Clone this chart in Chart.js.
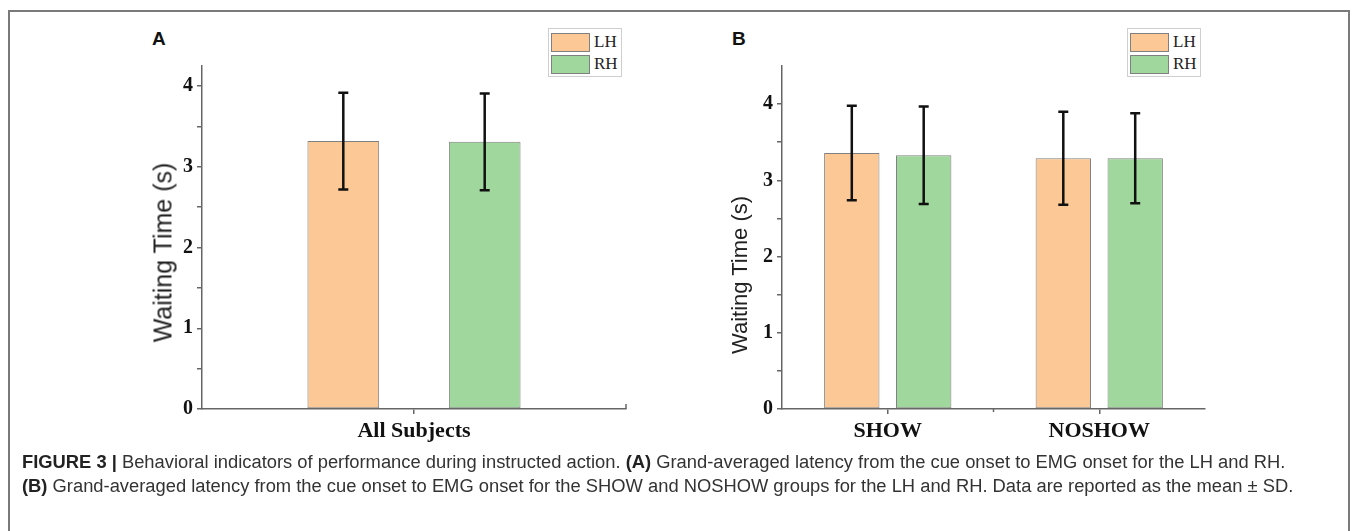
<!DOCTYPE html>
<html>
<head>
<meta charset="utf-8">
<script src="https://cdn.jsdelivr.net/npm/chart.js@4.4.1/dist/chart.umd.min.js"></script>
<style>
  body { margin: 0; background: #fff; width: 1357px; height: 531px; overflow: hidden; position: relative; font-family: "Liberation Sans", Arial, sans-serif; }
  .frame { position: absolute; left: 8px; top: 10px; width: 1338px; height: 540px; border: 2px solid #7a7a7a; border-bottom: none; }
  canvas { position: absolute; }
  .panel-label { position: absolute; font: bold 19px "Liberation Sans", Arial, sans-serif; color: #111; }
  .ytitle { position: absolute; width: 300px; margin-left: -150px; text-align: center; transform: rotate(-90deg); color: #222; white-space: nowrap; line-height: 1; }
  .legend { position: absolute; border: 1px solid #cfcfcf; background: #fff; padding: 2px 3px 1px 2px; }
  .legend .item { display: flex; align-items: center; height: 22px; font: 17px "Liberation Serif", "Times New Roman", serif; color: #222; }
  .legend .sw { width: 39px; height: 19px; border: 1px solid #808080; box-sizing: border-box; margin-right: 4px; }
  .caption { position: absolute; left: 22px; top: 450px; font-size: 18.35px; line-height: 24px; color: #333; white-space: nowrap; }
  .caption b { color: #222; }
</style>
</head>
<body>
<div class="frame"></div>
<div class="panel-label" style="left:152px;top:28px;">A</div>
<div class="panel-label" style="left:732px;top:28px;">B</div>
<canvas id="chartA" width="560" height="420" style="left:100px;top:40px;"></canvas>
<canvas id="chartB" width="560" height="420" style="left:680px;top:40px;"></canvas>
<div class="ytitle" id="titleA" style="left:163px;top:240px;font-size:25px;"></div>
<div class="ytitle" id="titleB" style="left:740px;top:264px;font-size:22px;"></div>
<div class="legend" id="legendA" style="left:548px;top:28px;"></div>
<div class="legend" id="legendB" style="left:1127px;top:28px;"></div>
<div class="caption">
  <b>FIGURE 3 |</b> Behavioral indicators of performance during instructed action. <b>(A)</b> Grand-averaged latency from the cue onset to EMG onset for the LH and RH.<br>
  <b>(B)</b> Grand-averaged latency from the cue onset to EMG onset for the SHOW and NOSHOW groups for the LH and RH. Data are reported as the mean ± SD.
</div>
<script>
// données
const handLabels = ['LH', 'RH'];
const handColors = ['#FBC896', '#9FD79C'];
const yTitle = 'Waiting Time (s)';

const allCategories = ['All Subjects'];
const allMeanLH = [3.32];
const allSdLH = [0.60];
const allMeanRH = [3.31];
const allSdRH = [0.60];

const groupCategories = ['SHOW', 'NOSHOW'];
const groupMeanLH = [3.36, 3.29];
const groupSdLH = [0.62, 0.61];
const groupMeanRH = [3.33, 3.29];
const groupSdRH = [0.64, 0.59];

const yMaxA = 4.25;
const yMaxB = 4.5;
const yTickValues = [0, 0.5, 1, 1.5, 2, 2.5, 3, 3.5, 4];

const serifBold = { family: '"Liberation Serif", "Times New Roman", serif', weight: 'bold', size: 20 };

// barres d'erreur (moyenne ± écart type)
const errorBars = {
  id: 'errorBars',
  afterDatasetsDraw(chart) {
    const ctx = chart.ctx;
    const y = chart.scales.y;
    ctx.save();
    ctx.strokeStyle = '#111';
    ctx.lineWidth = 2.5;
    chart.data.datasets.forEach((ds, i) => {
      const meta = chart.getDatasetMeta(i);
      meta.data.forEach((bar, j) => {
        const top = y.getPixelForValue(ds.data[j] + ds.sd[j]);
        const bottom = y.getPixelForValue(ds.data[j] - ds.sd[j]);
        ctx.beginPath();
        ctx.moveTo(bar.x, top); ctx.lineTo(bar.x, bottom);
        ctx.moveTo(bar.x - 5, top); ctx.lineTo(bar.x + 5, top);
        ctx.moveTo(bar.x - 5, bottom); ctx.lineTo(bar.x + 5, bottom);
        ctx.stroke();
      });
    });
    ctx.restore();
  }
};

// petites graduations en plus sur l'axe x
const extraTicks = {
  id: 'extraTicks',
  afterDraw(chart, args, opts) {
    const ctx = chart.ctx;
    const area = chart.chartArea;
    const x = chart.scales.x;
    ctx.save();
    ctx.strokeStyle = '#666';
    ctx.lineWidth = 1.5;
    if (opts.endTick) {
      ctx.beginPath();
      ctx.moveTo(area.right, area.bottom);
      ctx.lineTo(area.right, area.bottom - 5);
      ctx.stroke();
    }
    if (opts.midTicks) {
      for (let i = 0; i < chart.data.labels.length - 1; i++) {
        const mx = (x.getPixelForTick(i) + x.getPixelForTick(i + 1)) / 2;
        ctx.beginPath();
        ctx.moveTo(mx, area.bottom);
        ctx.lineTo(mx, area.bottom + 3);
        ctx.stroke();
      }
    }
    ctx.restore();
  }
};

function makeDatasets(meanLH, sdLH, meanRH, sdRH, barPct, catPct) {
  return [meanLH, meanRH].map((vals, i) => ({
    label: handLabels[i],
    data: vals,
    sd: i === 0 ? sdLH : sdRH,
    backgroundColor: handColors[i],
    borderColor: '#808080',
    borderWidth: 1,
    borderSkipped: false,
    barPercentage: barPct,
    categoryPercentage: catPct
  }));
}

function makeChart(id, labels, datasets, yMax, pad, extra) {
  const ctx = document.getElementById(id).getContext('2d');
  return new Chart(ctx, {
    type: 'bar',
    data: { labels: labels, datasets: datasets },
    options: {
      responsive: false,
      animation: false,
      layout: { padding: pad },
      plugins: {
        legend: { display: false },
        tooltip: { enabled: false },
        extraTicks: extra
      },
      scales: {
        x: {
          grid: { display: true, drawOnChartArea: false, drawTicks: true, tickLength: 5, offset: false, color: '#666', lineWidth: 1.5 },
          border: { display: true, color: '#666', width: 1.5 },
          ticks: { color: '#111', font: { ...serifBold, size: 22 }, padding: 4 },
          afterFit(scale) { scale.height = 51; }
        },
        y: {
          min: 0,
          max: yMax,
          afterBuildTicks(scale) { scale.ticks = yTickValues.map(v => ({ value: v })); },
          grid: { display: true, drawOnChartArea: false, drawTicks: true, tickLength: 5, lineWidth: 1.5, color: '#666' },
          border: { display: true, color: '#666', width: 1.5 },
          ticks: {
            color: '#111',
            font: serifBold,
            padding: 4,
            callback: v => (Number.isInteger(v) ? v : '')
          },
          afterFit(scale) { scale.width = 102; }
        }
      }
    },
    plugins: [errorBars, extraTicks]
  });
}

function buildLegend(id) {
  const el = document.getElementById(id);
  handLabels.forEach((lab, i) => {
    const item = document.createElement('div');
    item.className = 'item';
    item.innerHTML = '<span class="sw" style="background:' + handColors[i] + '"></span>' + lab;
    el.appendChild(item);
  });
}

document.addEventListener('DOMContentLoaded', function() {
  makeChart('chartA', allCategories,
    makeDatasets(allMeanLH, allSdLH, allMeanRH, allSdRH, 0.507, 0.667),
    yMaxA, { left: 0, right: 34, top: 26, bottom: 0 }, { endTick: true });
  makeChart('chartB', groupCategories,
    makeDatasets(groupMeanLH, groupSdLH, groupMeanRH, groupSdRH, 0.77, 0.68),
    yMaxB, { left: 0, right: 35, top: 26, bottom: 0 }, { midTicks: true });
  document.getElementById('titleA').textContent = yTitle;
  document.getElementById('titleB').textContent = yTitle;
  buildLegend('legendA');
  buildLegend('legendB');
});
</script>
</body>
</html>
